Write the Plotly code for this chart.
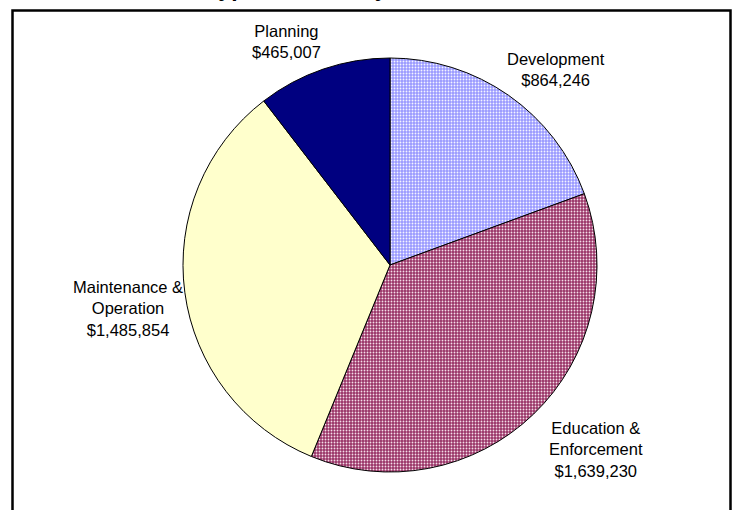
import plotly.graph_objects as go

# ---- data ----
categories = ["Development", "Education &<br>Enforcement", "Maintenance &<br>Operation", "Planning"]
values = [864246, 1639230, 1485854, 465007]
colors = ["#9999FF", "#993366", "#FFFFCC", "#000080"]
title_text = "Types of Activity"

W, H = 733, 510

# label positions (pixel centres) – layout only
label_pos = [(556, 70), (596, 449), (128, 308), (286, 41)]

fig = go.Figure()
fig.add_trace(go.Pie(
    labels=categories,
    values=values,
    sort=False,
    direction="clockwise",
    rotation=0,
    textinfo="none",
    hoverinfo="skip",
    showlegend=False,
    marker=dict(
        colors=colors,
        line=dict(color="black", width=1),
        pattern=dict(
            shape=[".", ".", "", ""],
            bgcolor=colors,
            fgcolor=["#F4F4FF", "#F4DDE8", "#FFFFCC", "#000080"],
            size=3,
            solidity=0.3,
            fillmode="replace",
        ),
    ),
    domain=dict(x=[183 / W, 597 / W], y=[1 - 472 / H, 1 - 58 / H]),
))

annotations = []
for cat, val, (px, py) in zip(categories, values, label_pos):
    annotations.append(dict(
        x=px / W, y=1 - py / H, xref="paper", yref="paper",
        xanchor="center", yanchor="middle",
        text=f"{cat}<br>${val:,}", showarrow=False, align="center",
        font=dict(family="Liberation Sans, Arial, sans-serif", size=16.5, color="black"),
    ))

# title, mostly cut off at the top edge as in the reference (only descenders show)
annotations.append(dict(
    x=204 / W, y=1 - 3.5 / H, xref="paper", yref="paper",
    xanchor="left", yanchor="bottom",
    text=f"<b>{title_text}</b>", showarrow=False,
    font=dict(family="Liberation Sans, Arial, sans-serif", size=23, color="black"),
))

fig.update_layout(
    width=W, height=H,
    margin=dict(l=0, r=0, t=0, b=0),
    paper_bgcolor="white", plot_bgcolor="white",
    annotations=annotations,
    shapes=[dict(type="rect", xref="paper", yref="paper",
                 x0=12.5 / W, x1=730.5 / W, y0=-0.05, y1=1 - 10.5 / H,
                 line=dict(color="black", width=2.5), fillcolor="rgba(0,0,0,0)")],
)

fig.write_html(
    "out.html",
    config={"displayModeBar": False},
    post_script="document.body.style.margin='0';document.body.style.overflow='hidden';",
)
